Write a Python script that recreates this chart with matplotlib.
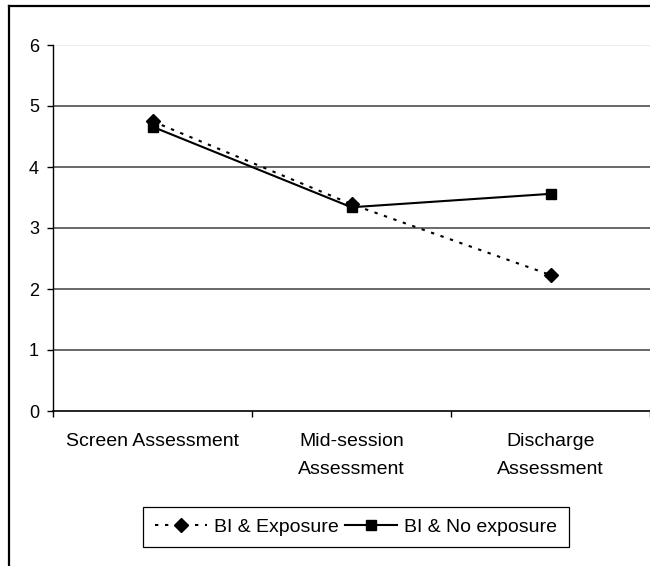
import matplotlib
matplotlib.use("Agg")
import matplotlib.pyplot as plt
from matplotlib.lines import Line2D

# Data
categories = ["Screen Assessment", "Mid-session\nAssessment", "Discharge\nAssessment"]
bi_exposure = [4.75, 3.39, 2.23]
bi_no_exposure = [4.66, 3.34, 3.56]
y_ticks = [0, 1, 2, 3, 4, 5, 6]
series_names = ["BI & Exposure", "BI & No exposure"]

plt.rcParams["font.family"] = ["Liberation Sans", "DejaVu Sans"]

W, H = 650, 566
fig = plt.figure(figsize=(W / 100, H / 100), dpi=100)
fig.patch.set_facecolor("white")

# Plot area in pixel terms
left_px, right_px, top_px, bottom_px = 53, 650, 45, 411
ax = fig.add_axes([left_px / W, 1 - bottom_px / H,
                   (right_px - left_px) / W, (bottom_px - top_px) / H])

x = list(range(len(categories)))

# Horizontal gridlines
for v in y_ticks[1:]:
    col = "#e8e8e8" if v == y_ticks[-1] else "#404040"
    ax.axhline(v, color=col, lw=1.1, zorder=1)

ax.plot(x, bi_exposure, color="black", lw=1.5, linestyle=(0, (1.6, 3.2)),
        marker="D", markersize=6.8, markerfacecolor="black",
        markeredgecolor="black", label=series_names[0], zorder=3)
ax.plot(x, bi_no_exposure, color="black", lw=1.5, linestyle="-",
        marker="s", markersize=7, markerfacecolor="black",
        markeredgecolor="black", label=series_names[1], zorder=3)

ax.set_xlim(-0.5, len(categories) - 0.5)
ax.set_ylim(y_ticks[0], y_ticks[-1])

# Category axis: ticks at boundaries, labels centred on categories
ax.set_xticks([i - 0.5 for i in range(len(categories) + 1)])
ax.set_xticklabels([])
ax.set_xticks(x, minor=True)
ax.set_xticklabels(categories, minor=True, fontsize=14, linespacing=1.8)
ax.tick_params(axis="x", which="major", length=4, width=1, direction="out", color="black")
ax.tick_params(axis="x", which="minor", length=0, pad=16)

ax.set_yticks(y_ticks)
ax.set_yticklabels([str(v) for v in y_ticks], fontsize=13)
ax.tick_params(axis="y", length=4, width=1, direction="out", pad=6, color="black")

for side in ("top", "right"):
    ax.spines[side].set_visible(False)
ax.spines["left"].set_linewidth(1.0)
ax.spines["bottom"].set_linewidth(1.2)
ax.spines["left"].set_color("black")
ax.spines["bottom"].set_color("black")
ax.set_facecolor("white")

leg = fig.legend(loc="center", bbox_to_anchor=(356 / W, 1 - 527 / H),
                 ncol=2, fontsize=14, frameon=True, fancybox=False,
                 framealpha=1, edgecolor="black", handlelength=2.7,
                 handletextpad=0.35, columnspacing=0.3, borderpad=0.6,
                 numpoints=1, borderaxespad=0)
leg.get_frame().set_linewidth(0.9)

# Outer chart border
fig.add_artist(Line2D([9 / W, 9 / W], [0, 1 - 6 / H], transform=fig.transFigure,
                      color="black", lw=1.6))
fig.add_artist(Line2D([9 / W, 1], [1 - 6 / H, 1 - 6 / H], transform=fig.transFigure,
                      color="black", lw=1.6))

fig.savefig("out.png", dpi=100, facecolor="white")
